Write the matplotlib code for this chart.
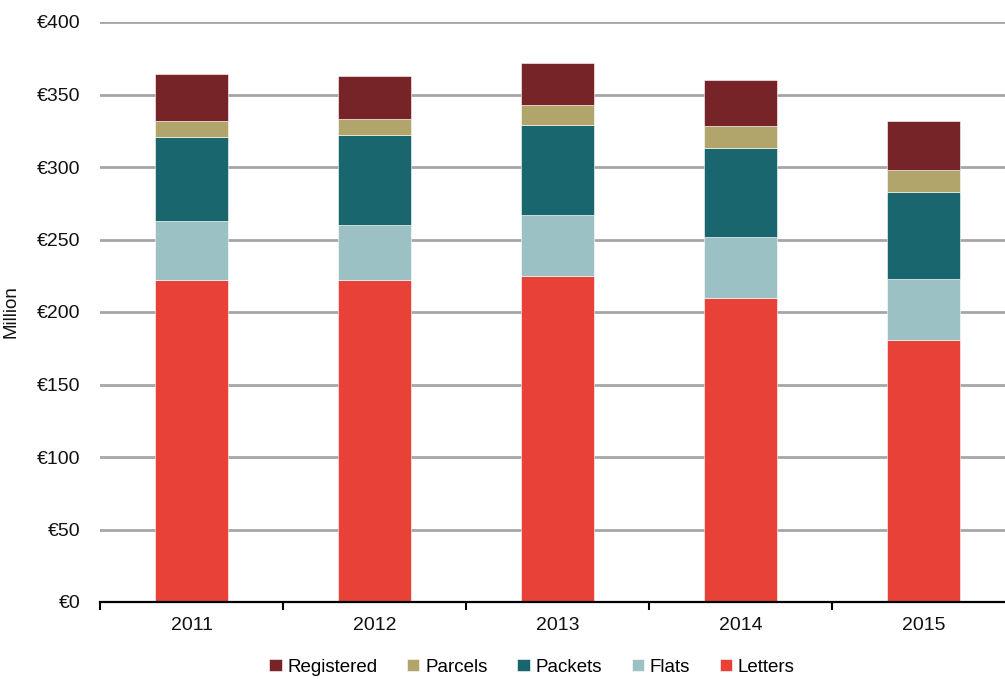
import matplotlib.pyplot as plt
import numpy as np

plt.rcParams['font.family'] = ['Liberation Sans', 'DejaVu Sans']

years = ['2011', '2012', '2013', '2014', '2015']
letters = [222, 222, 225, 210, 181]
flats = [41, 38, 42, 42, 42]
packets = [58, 62, 62, 61, 60]
parcels = [11, 11, 14, 15, 15]
registered = [32, 30, 29, 32, 34]

series = [
    ('Letters', letters, '#e84137'),
    ('Flats', flats, '#9cc1c4'),
    ('Packets', packets, '#19666e'),
    ('Parcels', parcels, '#b1a56b'),
    ('Registered', registered, '#772428'),
]

fig = plt.figure(figsize=(10.05, 6.79), dpi=100)
ax = fig.add_axes([100 / 1005, 77 / 679, 915 / 1005, 580 / 679])

x = np.arange(len(years))
bottom = np.zeros(len(years))
handles = {}
for name, vals, col in series:
    b = ax.bar(x, vals, 0.4, bottom=bottom, color=col, edgecolor='white',
               linewidth=0.4, zorder=3, label=name)
    handles[name] = b
    bottom += np.array(vals)

ax.set_xlim(-0.5, len(years) - 0.5)
ax.set_ylim(0, 400)
ax.set_yticks(range(0, 401, 50))
ax.set_yticklabels([f'€{v}' for v in range(0, 401, 50)], fontsize=14, color='#111111')
ax.tick_params(axis='y', length=0, pad=14)
ax.yaxis.grid(True, color='#a6a6a6', linewidth=2.0, zorder=0)
ax.set_axisbelow(True)

ax.set_xticks(x)
ax.set_xticklabels(years, fontsize=14, color='#111111')
ax.tick_params(axis='x', which='major', length=0, pad=11)
ax.set_xticks(np.arange(-0.5, len(years)), minor=True)
ax.tick_params(axis='x', which='minor', length=6, width=1.5, direction='out', color='black')

for s in ['top', 'right', 'left']:
    ax.spines[s].set_visible(False)
ax.spines['bottom'].set_linewidth(1.6)
ax.spines['bottom'].set_zorder(4)

ax.set_ylabel('Million', fontsize=13.5, color='#111111')
ax.yaxis.set_label_coords(-0.088, 0.5)

order = ['Registered', 'Parcels', 'Packets', 'Flats', 'Letters']
fig.legend([handles[n] for n in order], order, loc='center', bbox_to_anchor=(532 / 1005, 1 - 667 / 679),
           ncol=5, frameon=False, fontsize=13.5, handlelength=0.65, handleheight=0.65,
           handletextpad=0.3, columnspacing=1.6)

plt.savefig('out.png', dpi=100)
plt.close()
